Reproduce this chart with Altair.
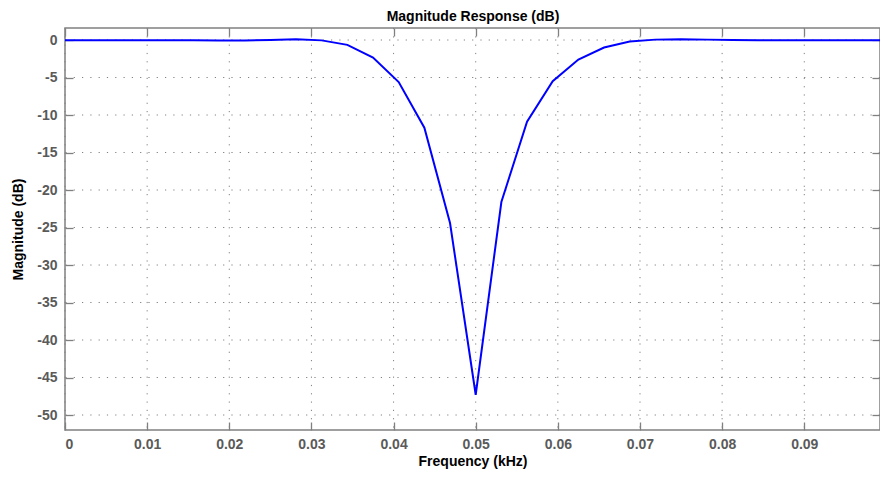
import altair as alt
import pandas as pd

freq_khz = [0.0, 0.003125, 0.00625, 0.009375, 0.0125, 0.015625, 0.01875, 0.021875,
            0.025, 0.028125, 0.03125, 0.034375, 0.0375, 0.040625, 0.04375, 0.046875,
            0.05, 0.053125, 0.05625, 0.059375, 0.0625, 0.065625, 0.06875, 0.071875,
            0.075, 0.078125, 0.08125, 0.084375, 0.0875, 0.090625, 0.09375, 0.096875,
            0.09922]
mag_db = [-0.02, -0.02, -0.02, -0.02, -0.03, -0.04, -0.06, -0.07,
          0.0, 0.1, -0.05, -0.65, -2.35, -5.6, -11.7, -24.4,
          -47.3, -21.6, -10.9, -5.5, -2.6, -1.0, -0.2, 0.05,
          0.1, 0.05, 0.0, -0.02, -0.02, -0.02, -0.02, -0.02,
          -0.02]

x_ticks = [0, 0.01, 0.02, 0.03, 0.04, 0.05, 0.06, 0.07, 0.08, 0.09]
y_ticks = [-50, -45, -40, -35, -30, -25, -20, -15, -10, -5, 0]

df = pd.DataFrame({"f": freq_khz, "m": mag_db})
xgrid_df = pd.DataFrame({"f": x_ticks})
ygrid_df = pd.DataFrame({"m": y_ticks})

FONT = "Liberation Sans"
GRAY = "#808080"
LABEL = "#5a5a5a"

xs = alt.Scale(domain=[0, 0.09922], nice=False, zero=False)
ys = alt.Scale(domain=[-52, 1.6], nice=False, zero=False)

x_lab = "datum.value == 0 ? '0' : format(datum.value, '.2f')"
y_lab = "'' + datum.value"

xgrid = alt.Chart(xgrid_df).mark_rule(color=GRAY, strokeWidth=1, strokeDash=[1.2, 7.1]).encode(
    x=alt.X("f:Q", scale=xs, axis=None)
)
ygrid = alt.Chart(ygrid_df).mark_rule(color=GRAY, strokeWidth=1, strokeDash=[1.2, 7.1]).encode(
    y=alt.Y("m:Q", scale=ys, axis=None)
)

main = alt.Chart(df).mark_line(color="#0000ff", strokeWidth=2, clip=True).encode(
    x=alt.X("f:Q", scale=xs, title="Frequency (kHz)",
            axis=alt.Axis(orient="bottom", values=x_ticks, labelExpr=x_lab,
                          offset=-8, tickSize=8, tickColor=GRAY, tickWidth=1.3,
                          domain=False, grid=False, labelPadding=7, labelFont=FONT,
                          labelFontSize=14, labelFontWeight="bold", labelColor=LABEL,
                          titleFont=FONT, titleFontSize=14, titleFontWeight="bold",
                          titleColor="#000000", titlePadding=3)),
    y=alt.Y("m:Q", scale=ys, title="Magnitude (dB)",
            axis=alt.Axis(orient="left", values=y_ticks, labelExpr=y_lab, offset=-8,
                          tickSize=8, tickColor=GRAY, tickWidth=1.3, domain=False,
                          grid=False, labelPadding=8, labelFont=FONT, labelFontSize=14,
                          labelFontWeight="bold", labelColor=LABEL, titleFont=FONT,
                          titleFontSize=14, titleFontWeight="bold", titleColor="#000000",
                          titlePadding=11)),
)

mirror = alt.Chart(df).mark_line(opacity=0).encode(
    x=alt.X("f:Q", scale=xs, title="Magnitude Response (dB)",
            axis=alt.Axis(orient="top", values=x_ticks, offset=-8, tickSize=8,
                          tickColor=GRAY, tickWidth=1.3, domain=False, grid=False,
                          labels=False, titleFont=FONT, titleFontSize=14,
                          titleFontWeight="bold", titleColor="#000000",
                          titlePadding=4, titleBaseline="bottom")),
    y=alt.Y("m:Q", scale=ys, title=None,
            axis=alt.Axis(orient="right", values=y_ticks, offset=-8, tickSize=8,
                          tickColor=GRAY, tickWidth=1.3, domain=False, grid=False,
                          labels=False)),
)

chart = alt.layer(xgrid, ygrid, mirror, main).resolve_axis(
    x="independent", y="independent"
).properties(
    width=815, height=402,
    autosize=alt.AutoSizeParams(type="none"),
    padding={"left": 57, "top": 20, "right": 0, "bottom": 39},
).configure_view(stroke=GRAY, strokeWidth=1.5)

chart.save("out.html", embed_options={"renderer": "svg", "actions": False})
